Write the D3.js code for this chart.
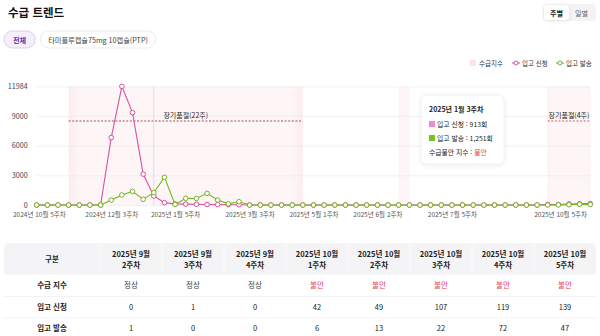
<!DOCTYPE html>
<html lang="ko">
<head>
<meta charset="utf-8">
<script src="https://cdn.jsdelivr.net/npm/d3@7/dist/d3.min.js"></script>
<style>
  html, body { margin: 0; padding: 0; background: #fff; }
  svg { display: block; font-family: "Noto Sans CJK KR", "Noto Sans", sans-serif; }
</style>
</head>
<body>
<svg id="chart" width="600" height="336"></svg>
<script>
// Weekly supply trend: requests vs. shipments
const weeks = [
  "2024년 10월 5주차", "2024년 11월 1주차", "2024년 11월 2주차", "2024년 11월 3주차", "2024년 11월 4주차",
  "2024년 12월 1주차", "2024년 12월 2주차", "2024년 12월 3주차", "2024년 12월 4주차",
  "2025년 1월 1주차", "2025년 1월 2주차", "2025년 1월 3주차", "2025년 1월 4주차", "2025년 1월 5주차",
  "2025년 2월 1주차", "2025년 2월 2주차", "2025년 2월 3주차", "2025년 2월 4주차",
  "2025년 3월 1주차", "2025년 3월 2주차", "2025년 3월 3주차", "2025년 3월 4주차",
  "2025년 4월 1주차", "2025년 4월 2주차", "2025년 4월 3주차", "2025년 4월 4주차",
  "2025년 5월 1주차", "2025년 5월 2주차", "2025년 5월 3주차", "2025년 5월 4주차", "2025년 5월 5주차",
  "2025년 6월 1주차", "2025년 6월 2주차", "2025년 6월 3주차", "2025년 6월 4주차",
  "2025년 7월 1주차", "2025년 7월 2주차", "2025년 7월 3주차", "2025년 7월 4주차", "2025년 7월 5주차",
  "2025년 8월 1주차", "2025년 8월 2주차", "2025년 8월 3주차", "2025년 8월 4주차",
  "2025년 9월 1주차", "2025년 9월 2주차", "2025년 9월 3주차", "2025년 9월 4주차",
  "2025년 10월 1주차", "2025년 10월 2주차", "2025년 10월 3주차", "2025년 10월 4주차", "2025년 10월 5주차"
];

// 입고 신청
const requests = [
  0, 0, 0, 0, 0, 0, 0, 6814, 11984, 9332, 3122, 913, 232, 110, 90, 70, 50, 40, 30, 20,
  0, 0, 0, 0, 0, 0, 0, 0, 0, 0, 0, 0, 0, 0, 0, 0, 0, 0, 0, 0,
  0, 0, 0, 0, 0, 0, 1, 0, 42, 49, 107, 119, 139
];

// 입고 발송
const shipments = [
  0, 0, 0, 0, 0, 0, 0, 503, 1007, 1380, 570, 1251, 2800, 60, 680, 660, 1178, 500, 120, 330,
  0, 0, 0, 0, 0, 0, 0, 0, 0, 0, 0, 0, 0, 0, 0, 0, 0, 0, 0, 0,
  0, 0, 0, 0, 0, 1, 0, 0, 6, 13, 22, 72, 47
];

const yTicks = [0, 3000, 6000, 9000, 11984];
const xTickIndices = [0, 7, 13, 20, 26, 32, 39, 52];

// unstable-supply periods (week index ranges)
const bandStarts = [3, 34, 48];
const bandEnds = [25, 35, 52];
const bandLabels = ["장기품절(22주)", "", "장기품절(4주)"];

const hoverIndex = 11;
const hoverStatus = "불안";

// summary table (last 8 weeks)
const tableHeadTop = ["2025년 9월", "2025년 9월", "2025년 9월", "2025년 10월", "2025년 10월", "2025년 10월", "2025년 10월", "2025년 10월"];
const tableHeadBottom = ["2주차", "3주차", "4주차", "1주차", "2주차", "3주차", "4주차", "5주차"];
const tableStatus = ["정상", "정상", "정상", "불안", "불안", "불안", "불안", "불안"];
const rowLabels = ["수급 지수", "입고 신청", "입고 발송"];

const productChips = ["전체", "타미플루캡슐75mg 10캡슐(PTP)"];
const periodButtons = ["주별", "일별"];

const PINK = "#d9509f";
const GREEN = "#72b51f";

const svg = d3.select("#chart");
const defs = svg.append("defs");

const shadow = defs.append("filter").attr("id", "shadow").attr("x", "-20%").attr("y", "-20%").attr("width", "140%").attr("height", "150%");
shadow.append("feDropShadow").attr("dx", 0).attr("dy", 1).attr("stdDeviation", 2).attr("flood-color", "#000").attr("flood-opacity", 0.08);

const bandGrad = defs.append("linearGradient").attr("id", "bandGrad").attr("x1", "0").attr("x2", "1").attr("y1", "0").attr("y2", "0");
bandGrad.append("stop").attr("offset", "0").attr("stop-color", "#fcecee");
bandGrad.append("stop").attr("offset", "0.05").attr("stop-color", "#fef6f6");
bandGrad.append("stop").attr("offset", "0.95").attr("stop-color", "#fef6f6");
bandGrad.append("stop").attr("offset", "1").attr("stop-color", "#fcecee");

// ---- header ----
svg.append("text").attr("x", 8).attr("y", 16.5)
  .attr("font-size", 11.5).attr("font-weight", 700).attr("fill", "#111").text("수급 트렌드");

// product chips
let chipX = 4;
productChips.forEach((label, i) => {
  const t = svg.append("text").attr("y", 42.5).attr("font-size", 7.2)
    .attr("fill", i === 0 ? "#6b2fa0" : "#444").attr("font-weight", i === 0 ? 700 : 400)
    .attr("text-anchor", "middle").text(label);
  const w = t.node().getComputedTextLength() + (i === 0 ? 18 : 16);
  svg.insert("rect", "text").attr("x", chipX).attr("y", 31).attr("width", w).attr("height", 17)
    .attr("rx", 8.5).attr("fill", i === 0 ? "#f6effb" : "#fff")
    .attr("stroke", i === 0 ? "#d9c2ec" : "#e6e6e6").attr("stroke-width", 0.8);
  t.attr("x", chipX + w / 2).raise();
  chipX += w + 5;
});

// week/day toggle
svg.append("rect").attr("x", 543).attr("y", 4).attr("width", 53).attr("height", 17).attr("rx", 4).attr("fill", "#f3f3f5");
svg.append("rect").attr("x", 544).attr("y", 5).attr("width", 25).attr("height", 15).attr("rx", 3.5)
  .attr("fill", "#fff").attr("filter", "url(#shadow)");
periodButtons.forEach((label, i) => {
  svg.append("text").attr("x", 556.5 + i * 25).attr("y", 15.5).attr("text-anchor", "middle")
    .attr("font-size", 7).attr("font-weight", i === 0 ? 700 : 400)
    .attr("fill", i === 0 ? "#222" : "#666").text(label);
});

// ---- legend ----
const legend = svg.append("g").attr("font-size", 6.5).attr("fill", "#333");
legend.append("rect").attr("x", 470).attr("y", 60).attr("width", 6).attr("height", 6).attr("fill", "#fbe3e6");
legend.append("text").attr("x", 479).attr("y", 65.5).text("수급지수");
[[PINK, 512, "입고 신청"], [GREEN, 556, "입고 발송"]].forEach(([c, x, label]) => {
  legend.append("line").attr("x1", x).attr("x2", x + 8).attr("y1", 63).attr("y2", 63).attr("stroke", c).attr("stroke-width", 1);
  legend.append("circle").attr("cx", x + 4).attr("cy", 63).attr("r", 2).attr("fill", "#fff").attr("stroke", c).attr("stroke-width", 1);
  legend.append("text").attr("x", x + 10).attr("y", 65.5).text(label);
});

// ---- chart ----
const plotTop = 86.4, plotBottom = 205, plotLeft = 36.7, plotRight = 590.3;
const idx = d3.range(weeks.length);
const x = d3.scalePoint().domain(idx).range([plotLeft, plotRight]);
const y = d3.scaleLinear().domain([0, d3.max(requests)]).range([plotBottom, plotTop]);

// unstable bands
bandStarts.forEach((s, i) => {
  const x0 = x(s), x1 = x(bandEnds[i]);
  svg.append("rect").attr("x", x0).attr("y", plotTop).attr("width", x1 - x0).attr("height", plotBottom - plotTop)
    .attr("fill", "url(#bandGrad)");
});

// gridlines
const yAxis = d3.axisLeft(y).tickValues(yTicks).tickSize(-(plotRight - plotLeft)).tickPadding(9).tickFormat(d3.format("d"));
const yg = svg.append("g").attr("transform", `translate(${plotLeft},0)`).call(yAxis);
yg.select(".domain").remove();
yg.selectAll(".tick line").attr("stroke", "#ededed").attr("stroke-width", 0.8);
yg.selectAll(".tick text").attr("font-size", 7.2).attr("fill", "#444").attr("font-family", "Noto Sans CJK KR, sans-serif");

// band labels with dashed markers
bandStarts.forEach((s, i) => {
  if (!bandLabels[i]) return;
  const x0 = x(s), x1 = x(bandEnds[i]);
  svg.append("line").attr("x1", x0).attr("x2", x1).attr("y1", 121).attr("y2", 121)
    .attr("stroke", i === 0 ? "#9c3355" : "#d9404f").attr("stroke-width", 0.9).attr("stroke-dasharray", "2,1.6");
  svg.append("text").attr("x", (x0 + x1) / 2).attr("y", 118).attr("text-anchor", "middle")
    .attr("font-size", 7).attr("fill", "#222").text(bandLabels[i]);
});

// x axis labels
const xAxis = d3.axisBottom(x).tickValues(xTickIndices).tickSize(0).tickPadding(6).tickFormat(i => weeks[i]);
const xg = svg.append("g").attr("transform", `translate(0,${plotBottom + 1})`).call(xAxis);
xg.select(".domain").remove();
xg.selectAll(".tick text").attr("font-size", 6.5).attr("fill", "#555").attr("font-family", "Noto Sans CJK KR, sans-serif")
  .each(function () {
    // keep edge labels inside the canvas
    const bb = this.getBBox();
    const tx = +this.parentNode.getAttribute("transform").match(/translate\(([-\d.]+)/)[1];
    const right = tx + bb.x + bb.width;
    const left = tx + bb.x;
    if (right > 587) d3.select(this).attr("dx", 587 - right);
    if (left < 13) d3.select(this).attr("dx", 13 - left);
  });

// hover pointer
svg.append("line").attr("x1", x(hoverIndex)).attr("x2", x(hoverIndex)).attr("y1", plotTop).attr("y2", plotBottom)
  .attr("stroke", "#d6d6d6").attr("stroke-width", 0.8);

// series
const line = d3.line().x((d, i) => x(i)).y(d => y(d));
[[requests, PINK], [shipments, GREEN]].forEach(([data, color]) => {
  svg.append("path").datum(data).attr("d", line).attr("fill", "none").attr("stroke", color).attr("stroke-width", 1.1);
  svg.append("g").selectAll("circle").data(data).join("circle")
    .attr("cx", (d, i) => x(i)).attr("cy", d => y(d)).attr("r", 2.3)
    .attr("fill", "#fff").attr("stroke", color).attr("stroke-width", 1);
});

// tooltip
const fmt = d3.format(",");
const tip = svg.append("g").attr("transform", "translate(421,95)");
tip.append("rect").attr("width", 83).attr("height", 69).attr("rx", 5).attr("fill", "#fff")
  .attr("stroke", "#ececec").attr("stroke-width", 0.8).attr("filter", "url(#shadow)");
tip.append("text").attr("x", 8).attr("y", 17).attr("font-size", 7).attr("font-weight", 700).attr("fill", "#222").text(weeks[hoverIndex]);
tip.append("rect").attr("x", 8).attr("y", 26).attr("width", 6).attr("height", 6).attr("fill", "#f08bd0");
tip.append("text").attr("x", 16).attr("y", 32).attr("font-size", 6.8).attr("fill", "#222").text(`입고 신청 : ${fmt(requests[hoverIndex])}회`);
tip.append("rect").attr("x", 8).attr("y", 40).attr("width", 6).attr("height", 6).attr("fill", "#77c322");
tip.append("text").attr("x", 16).attr("y", 46).attr("font-size", 6.8).attr("fill", "#222").text(`입고 발송 : ${fmt(shipments[hoverIndex])}회`);
const st = tip.append("text").attr("x", 8).attr("y", 59.5).attr("font-size", 6.8).attr("fill", "#222");
st.append("tspan").text("수급불안 지수 : ");
st.append("tspan").attr("fill", "#e2414f").text(hoverStatus);

// ---- table ----
const tableLeft = 4, tableRight = 596, firstColW = 96;
const colW = (tableRight - tableLeft - firstColW) / tableHeadTop.length;
const colCenter = i => tableLeft + firstColW + colW * i + colW / 2;
const headTop = 243, headH = 31.5;

svg.append("rect").attr("x", tableLeft).attr("y", headTop).attr("width", tableRight - tableLeft).attr("height", headH)
  .attr("rx", 4).attr("fill", "#f4f4f6");
d3.range(tableHeadTop.length).forEach(i => {
  svg.append("line").attr("x1", tableLeft + firstColW + colW * i).attr("x2", tableLeft + firstColW + colW * i)
    .attr("y1", headTop).attr("y2", headTop + headH).attr("stroke", "#fbfbfc").attr("stroke-width", 1);
});
svg.append("text").attr("x", tableLeft + firstColW / 2).attr("y", 262).attr("text-anchor", "middle")
  .attr("font-size", 7.5).attr("font-weight", 700).attr("fill", "#222").text("구분");
tableHeadTop.forEach((t, i) => {
  svg.append("text").attr("x", colCenter(i)).attr("y", 257).attr("text-anchor", "middle")
    .attr("font-size", 7.5).attr("font-weight", 700).attr("fill", "#222").text(t);
  svg.append("text").attr("x", colCenter(i)).attr("y", 267.5).attr("text-anchor", "middle")
    .attr("font-size", 7.5).attr("font-weight", 700).attr("fill", "#222").text(tableHeadBottom[i]);
});

const lastRequests = requests.slice(-tableHeadTop.length);
const lastShipments = shipments.slice(-tableHeadTop.length);
const rows = [tableStatus, lastRequests, lastShipments];
const rowY = [288, 309.5, 331];
[296.5, 318].forEach(yy => {
  svg.append("line").attr("x1", tableLeft).attr("x2", tableRight).attr("y1", yy).attr("y2", yy)
    .attr("stroke", "#f0f0f0").attr("stroke-width", 0.8);
});
rows.forEach((vals, r) => {
  svg.append("text").attr("x", tableLeft + firstColW / 2).attr("y", rowY[r]).attr("text-anchor", "middle")
    .attr("font-size", 7.5).attr("font-weight", 700).attr("fill", "#222").text(rowLabels[r]);
  vals.forEach((v, i) => {
    const isBad = v === "불안";
    svg.append("text").attr("x", colCenter(i)).attr("y", rowY[r]).attr("text-anchor", "middle")
      .attr("font-size", 7.5).attr("fill", isBad ? "#e2414f" : (r === 0 ? "#444" : "#222"))
      .text(typeof v === "number" ? fmt(v) : v);
  });
});
</script>
</body>
</html>
